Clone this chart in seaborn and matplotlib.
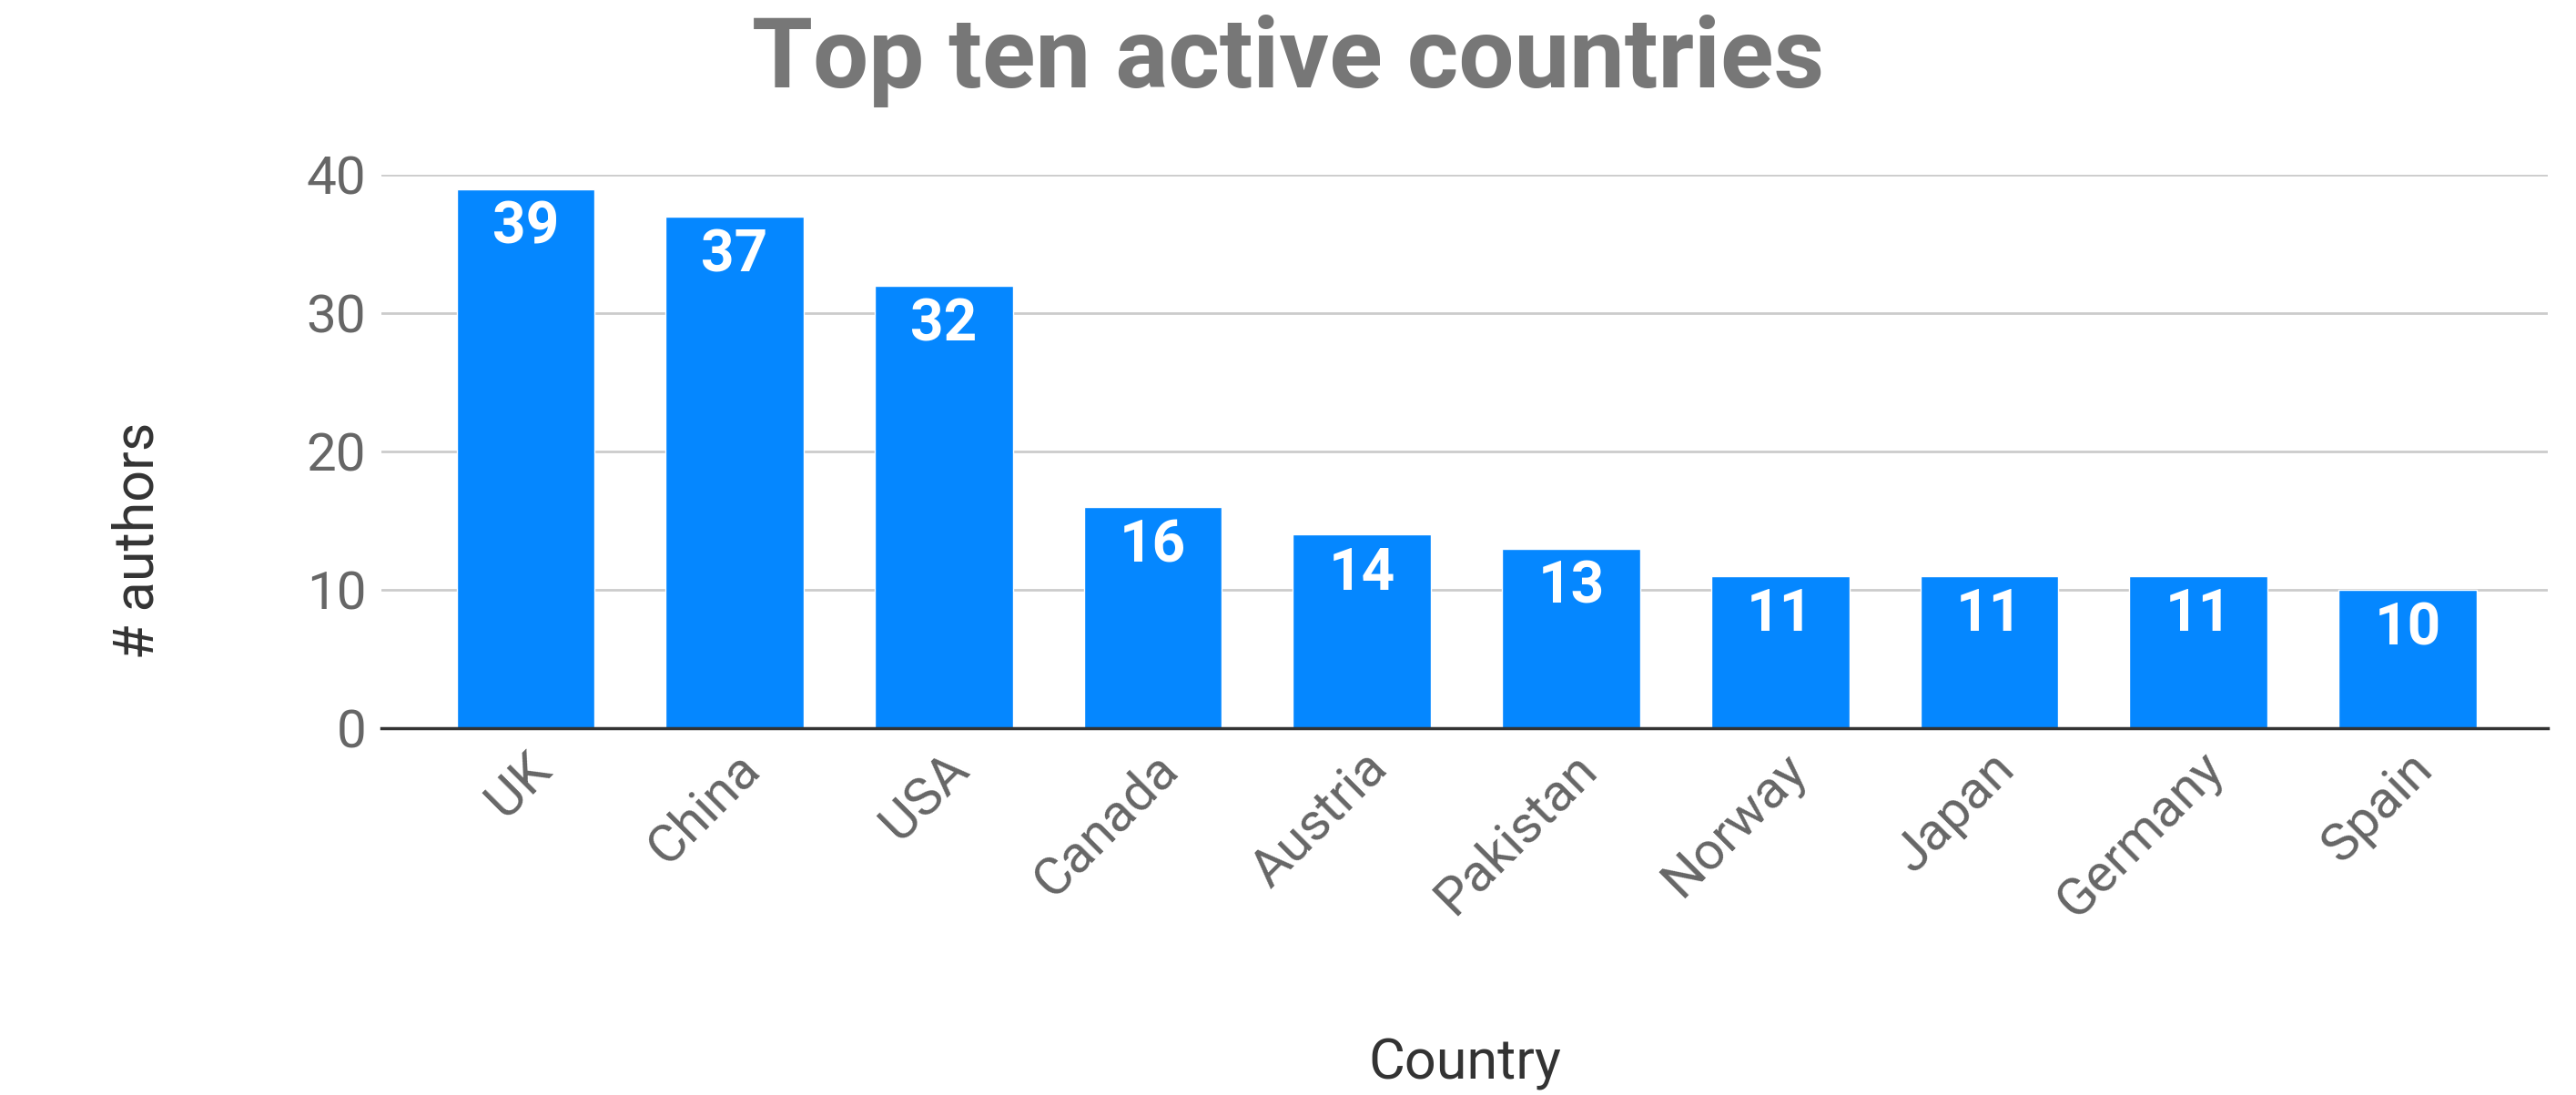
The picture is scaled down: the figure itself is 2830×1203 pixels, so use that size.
import matplotlib
matplotlib.use("Agg")
import matplotlib.pyplot as plt
import seaborn as sns
import pandas as pd

countries = ["UK", "China", "USA", "Canada", "Austria", "Pakistan", "Norway", "Japan", "Germany", "Spain"]
authors = [39, 37, 32, 16, 14, 13, 11, 11, 11, 10]

df = pd.DataFrame({"Country": countries, "authors": authors})

sns.set_style("white")
plt.rcParams['font.family'] = ['Roboto', 'DejaVu Sans']

fig = plt.figure(figsize=(28.3, 12.03), dpi=100)
ax = fig.add_axes([0.148, 0.335, 0.841, 0.505])
sns.barplot(data=df, x="Country", y="authors", color="#0587FF", saturation=1, width=0.66, ax=ax)

ax.set_xlim(-0.69, 9.67)
ax.set_ylim(0, 40)
ax.set_yticks([0, 10, 20, 30, 40])
ax.yaxis.grid(True, color="#cccccc", linewidth=2)
ax.set_axisbelow(True)
for s in ["top", "right", "left"]:
    ax.spines[s].set_visible(False)
ax.spines["bottom"].set_color("#333333")
ax.spines["bottom"].set_linewidth(2.5)
ax.tick_params(axis="both", length=0, labelsize=42, labelcolor="#666666", pad=12)
plt.setp(ax.get_xticklabels(), rotation=45, ha="right", rotation_mode="anchor")

for p, v in zip(ax.patches, authors):
    ax.text(p.get_x() + p.get_width() / 2, v - 0.8, str(v), ha="center", va="top",
            color="white", fontsize=46, fontweight="bold")

ax.set_xlabel("Country", fontsize=44, color="#333333")
ax.set_ylabel("# authors", fontsize=44, color="#333333")
ax.xaxis.set_label_coords(0.5, -0.56)
ax.yaxis.set_label_coords(-0.10, 0.34)
fig.text(0.5, 0.945, "Top ten active countries", ha="center", va="center",
         fontsize=78, fontweight="bold", color="#777777")

fig.savefig("out.png", dpi=100)
